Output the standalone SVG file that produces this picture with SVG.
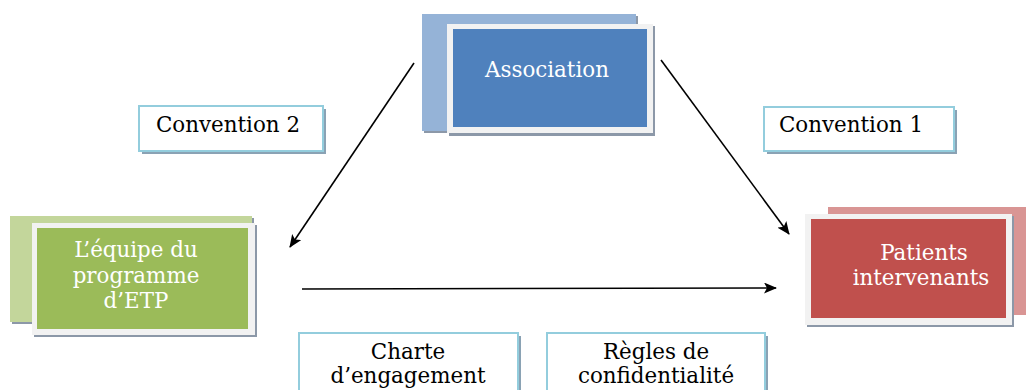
<svg xmlns="http://www.w3.org/2000/svg" width="1026" height="390" viewBox="0 0 1026 390">
<style>
text{font-family:"DejaVu Serif","Liberation Serif",serif;font-size:21.4px;text-anchor:middle}
.w{fill:#ffffff}
.k{fill:#000000}
.frame{fill:#f2f2f2}
.sh{fill:#8c98a8}
.lbl{fill:#ffffff;stroke:#93cddd;stroke-width:2}
.lsh{fill:#8aa2b4}
.conn{stroke:#000;stroke-width:1.6;fill:none;marker-end:url(#ah)}
</style>
<defs>
<marker id="ah" viewBox="0 0 13 11" refX="12" refY="5.5" markerWidth="13" markerHeight="11" markerUnits="userSpaceOnUse" orient="auto">
<path d="M0,0 L13,5.5 L0,11 L3,5.5 Z" fill="#000"/>
</marker>
</defs>
<g id="association">
<rect x="424" y="16" width="214" height="117" fill="#8c98a8"/>
<rect x="422" y="14" width="214" height="117" fill="#95b3d7"/>
<rect x="449" y="26" width="206" height="110" class="sh"/>
<rect x="447" y="24" width="206" height="109" class="frame"/>
<rect x="453" y="29" width="194" height="98" fill="#4f81bd"/>
<text x="547" y="77" class="w" font-size="22.6">Association</text>
</g>
<g id="equipe">
<rect x="12" y="218" width="242" height="106" fill="#8c98a8"/>
<rect x="10" y="216" width="242" height="106" fill="#c3d69b"/>
<rect x="34" y="225" width="223" height="112" class="sh"/>
<rect x="32" y="223" width="223" height="112" class="frame"/>
<rect x="37" y="228" width="211" height="101" fill="#9bbb59"/>
<text x="136" y="257" class="w">L’équipe du</text>
<text x="136" y="283" class="w">programme</text>
<text x="136" y="308" class="w">d’ETP</text>
</g>
<g id="patients">
<rect x="828" y="207" width="198" height="108" fill="#d99594"/>
<rect x="807" y="216" width="207" height="111" class="sh"/>
<rect x="805" y="214" width="207" height="111" class="frame"/>
<rect x="811" y="219" width="195" height="99" fill="#c0504d"/>
<text x="924" y="260" class="w">Patients</text>
<text x="921" y="285" class="w">intervenants</text>
</g>
<g id="convention2">
<rect x="142" y="109" width="184" height="45" class="lsh"/>
<rect x="139" y="106" width="184" height="45" class="lbl"/>
<text x="228" y="132" class="k">Convention 2</text>
</g>
<g id="convention1">
<rect x="767" y="110" width="190" height="44" class="lsh"/>
<rect x="764" y="107" width="190" height="44" class="lbl"/>
<text x="851" y="132" class="k">Convention 1</text>
</g>
<g id="charte">
<rect x="302" y="336" width="219" height="60" class="lsh"/>
<rect x="299" y="333" width="219" height="60" class="lbl"/>
<text x="408" y="359" class="k">Charte</text>
<text x="408" y="383" class="k">d’engagement</text>
</g>
<g id="regles">
<rect x="550" y="336" width="218" height="60" class="lsh"/>
<rect x="547" y="333" width="218" height="60" class="lbl"/>
<text x="656" y="359" class="k">Règles de</text>
<text x="656" y="383" class="k">confidentialité</text>
</g>
<g id="connectors">
<line x1="414" y1="63" x2="290" y2="247" class="conn"/>
<line x1="661" y1="60" x2="789" y2="234" class="conn"/>
<line x1="302" y1="289" x2="776" y2="288" class="conn"/>
</g>
</svg>
